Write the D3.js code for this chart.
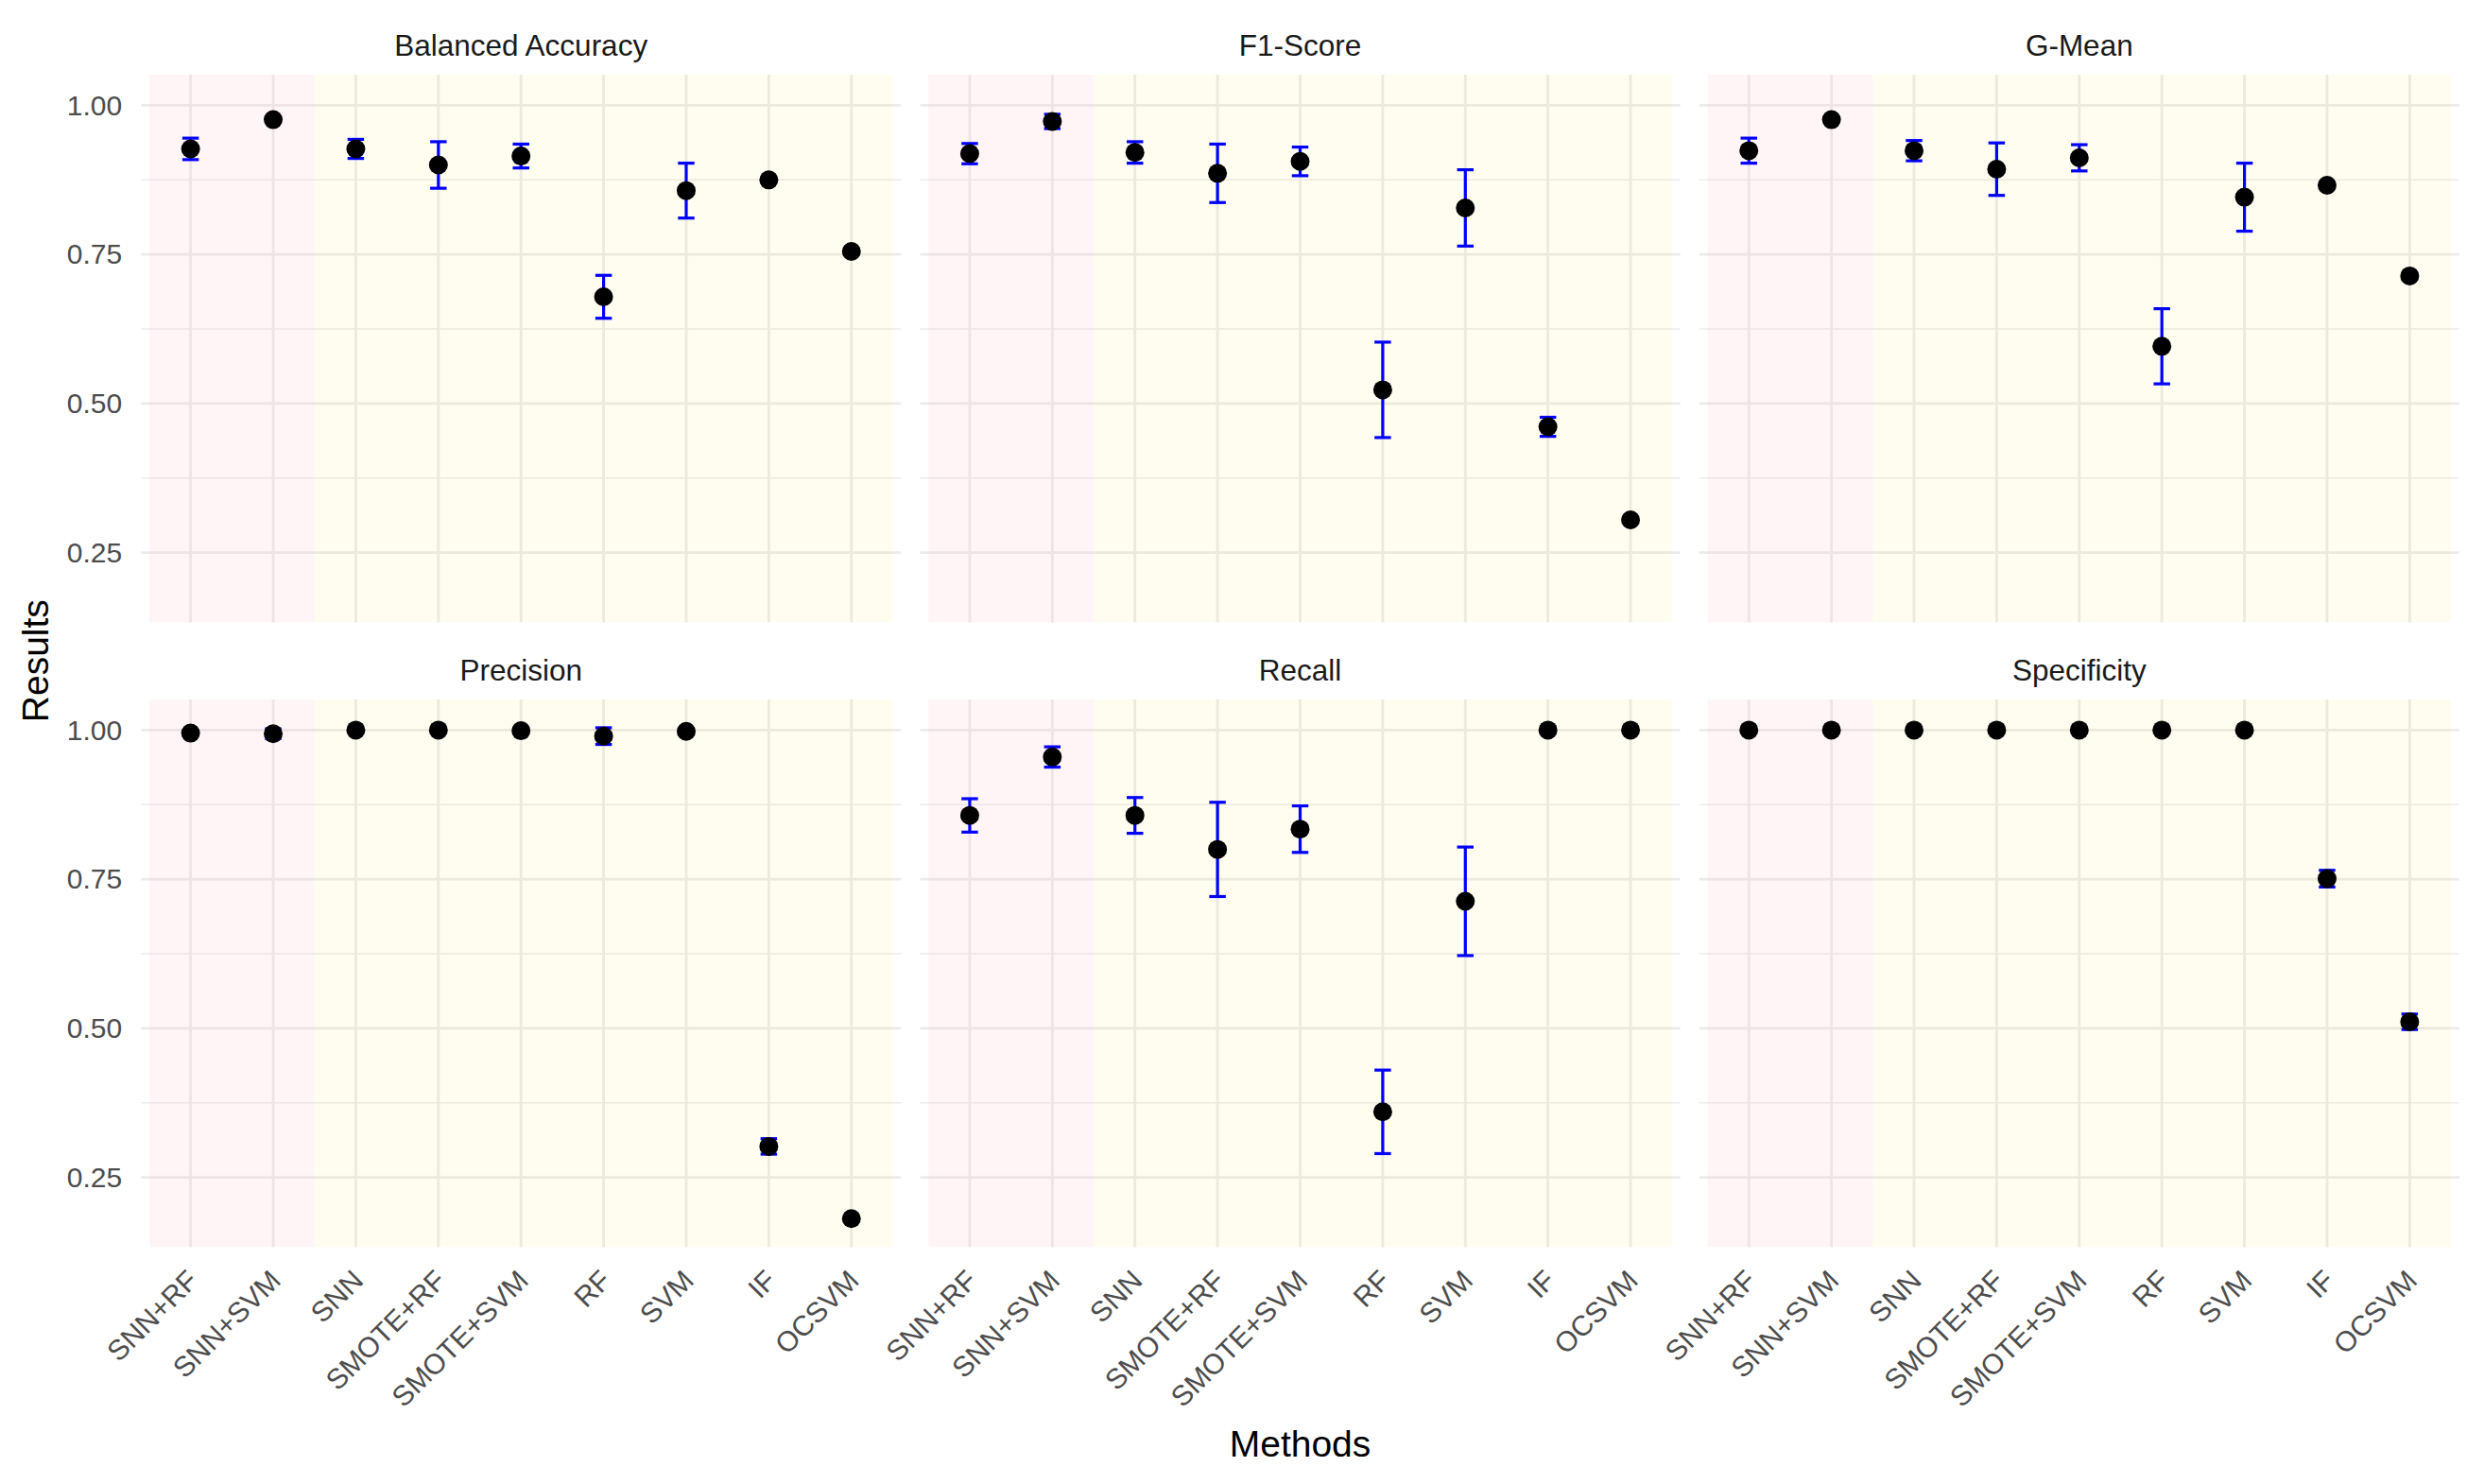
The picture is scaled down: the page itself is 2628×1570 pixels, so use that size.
<!DOCTYPE html>
<html>
<head>
<meta charset="utf-8">
<script src="https://cdn.jsdelivr.net/npm/d3@7"></script>
<style>
  body { margin: 0; background: #fff; }
  svg { display: block; font-family: "Liberation Sans", Arial, Helvetica, sans-serif; }
</style>
</head>
<body>
<svg id="chart" width="2628" height="1570"></svg>
<script>
const methods = ["SNN+RF", "SNN+SVM", "SNN", "SMOTE+RF", "SMOTE+SVM", "RF", "SVM", "IF", "OCSVM"];
const metrics = ["Balanced Accuracy", "F1-Score", "G-Mean", "Precision", "Recall", "Specificity"];

// mean and standard deviation per method
const baMean = [0.927, 0.976, 0.927, 0.900, 0.915, 0.679, 0.857, 0.875, 0.755];
const baSd = [0.018, 0.004, 0.016, 0.039, 0.020, 0.036, 0.046, 0.003, 0.002];
const f1Mean = [0.919, 0.973, 0.921, 0.886, 0.906, 0.523, 0.828, 0.461, 0.305];
const f1Sd = [0.017, 0.012, 0.018, 0.049, 0.024, 0.080, 0.064, 0.016, 0.003];
const gmMean = [0.924, 0.976, 0.924, 0.893, 0.912, 0.596, 0.846, 0.866, 0.714];
const gmSd = [0.021, 0.003, 0.017, 0.044, 0.022, 0.063, 0.057, 0.003, 0.003];
const precMean = [0.995, 0.994, 1.000, 1.000, 0.999, 0.990, 0.998, 0.302, 0.181];
const precSd = [0.004, 0.008, 0.001, 0.001, 0.002, 0.014, 0.003, 0.013, 0.002];
const recMean = [0.857, 0.955, 0.857, 0.800, 0.834, 0.360, 0.713, 1.000, 1.000];
const recSd = [0.028, 0.017, 0.030, 0.079, 0.039, 0.070, 0.091, 0.006, 0.000];
const specMean = [1.000, 1.000, 1.000, 1.000, 1.000, 1.000, 1.000, 0.751, 0.511];
const specSd = [0.000, 0.000, 0.000, 0.000, 0.000, 0.000, 0.000, 0.014, 0.013];

const yTicks = [0.25, 0.50, 0.75, 1.00];
const yMinor = [0.375, 0.625, 0.875];
const yDomain = [0.1332, 1.0514];
// first two methods are the proposed (SNN-based) group
const groups = [
  { from: 0, to: 1, fill: "#ffc0cb", opacity: 0.16 },
  { from: 2, to: 8, fill: "#ffd700", opacity: 0.06 }
];

const means = [baMean, f1Mean, gmMean, precMean, recMean, specMean];
const sds = [baSd, f1Sd, gmSd, precSd, recSd, specSd];

const svg = d3.select("#chart");

const panelW = 804;
const panelH = 579.4;
const lefts = [149.2, 973.5, 1797.8];
const tops = [79, 740];

const x = d3.scalePoint().domain(methods).range([0, panelW]).padding(0.6);
const step = x.step();
const y = d3.scaleLinear().domain(yDomain).range([panelH, 0]);

metrics.forEach((m, k) => {
  const col = k % 3;
  const row = Math.floor(k / 3);
  const g = svg.append("g")
    .attr("transform", `translate(${lefts[col]},${tops[row]})`);

  const data = methods.map((d, i) => ({ method: d, mean: means[k][i], sd: sds[k][i] }));

  // grid
  g.selectAll("line.minor")
    .data(yMinor)
    .enter()
    .append("line")
    .attr("x1", 0).attr("x2", panelW)
    .attr("y1", d => y(d)).attr("y2", d => y(d))
    .attr("stroke", "#ebebeb")
    .attr("stroke-width", 1.5);
  g.selectAll("line.hmajor")
    .data(yTicks)
    .enter()
    .append("line")
    .attr("x1", 0).attr("x2", panelW)
    .attr("y1", d => y(d)).attr("y2", d => y(d))
    .attr("stroke", "#ebebeb")
    .attr("stroke-width", 2.8);
  g.selectAll("line.vmajor")
    .data(methods)
    .enter()
    .append("line")
    .attr("x1", d => x(d)).attr("x2", d => x(d))
    .attr("y1", 0).attr("y2", panelH)
    .attr("stroke", "#ebebeb")
    .attr("stroke-width", 2.8);

  // shaded method groups
  g.selectAll("rect.group")
    .data(groups)
    .enter()
    .append("rect")
    .attr("x", d => x(methods[d.from]) - step / 2)
    .attr("width", d => x(methods[d.to]) - x(methods[d.from]) + step)
    .attr("y", 0)
    .attr("height", panelH)
    .attr("fill", d => d.fill)
    .attr("fill-opacity", d => d.opacity);

  // error bars
  const capW = step * 0.2;
  const eb = g.selectAll("g.err")
    .data(data)
    .enter()
    .append("g")
    .attr("stroke", "#0000ff")
    .attr("stroke-width", 3.2);
  eb.append("line")
    .attr("x1", d => x(d.method)).attr("x2", d => x(d.method))
    .attr("y1", d => y(d.mean - d.sd)).attr("y2", d => y(d.mean + d.sd));
  eb.append("line")
    .attr("x1", d => x(d.method) - capW / 2).attr("x2", d => x(d.method) + capW / 2)
    .attr("y1", d => y(d.mean + d.sd)).attr("y2", d => y(d.mean + d.sd));
  eb.append("line")
    .attr("x1", d => x(d.method) - capW / 2).attr("x2", d => x(d.method) + capW / 2)
    .attr("y1", d => y(d.mean - d.sd)).attr("y2", d => y(d.mean - d.sd));

  // points
  g.selectAll("circle")
    .data(data)
    .enter()
    .append("circle")
    .attr("cx", d => x(d.method))
    .attr("cy", d => y(d.mean))
    .attr("r", 10)
    .attr("fill", "#000");

  // strip title
  svg.append("text")
    .attr("x", lefts[col] + panelW / 2)
    .attr("y", tops[row] - 20)
    .attr("text-anchor", "middle")
    .attr("font-size", 31.5)
    .attr("fill", "#1a1a1a")
    .text(m);

  if (col === 0) {
    const ya = g.append("g")
      .call(d3.axisLeft(y).tickValues(yTicks).tickSize(0).tickPadding(20).tickFormat(d3.format(".2f")));
    ya.select(".domain").remove();
    ya.selectAll("text")
      .attr("font-size", 30)
      .attr("font-family", "Liberation Sans, Arial, sans-serif")
      .attr("fill", "#4d4d4d");
  }

  if (row === 1) {
    const xa = g.append("g")
      .attr("transform", `translate(0,${panelH})`)
      .call(d3.axisBottom(x).tickSize(0));
    xa.select(".domain").remove();
    xa.selectAll("text")
      .attr("x", 0)
      .attr("y", 0)
      .attr("dy", "0.71em")
      .attr("transform", "translate(-6,22) rotate(-45)")
      .attr("text-anchor", "end")
      .attr("font-size", 30)
      .attr("font-family", "Liberation Sans, Arial, sans-serif")
      .attr("fill", "#4d4d4d");
  }
});

// axis titles
svg.append("text")
  .attr("x", (lefts[0] + lefts[2] + panelW) / 2)
  .attr("y", 1541)
  .attr("text-anchor", "middle")
  .attr("font-size", 39)
  .attr("fill", "#000")
  .text("Methods");

svg.append("text")
  .attr("transform", `translate(51,${(tops[0] + tops[1] + panelH) / 2}) rotate(-90)`)
  .attr("text-anchor", "middle")
  .attr("font-size", 39)
  .attr("fill", "#000")
  .text("Results");
</script>
</body>
</html>
